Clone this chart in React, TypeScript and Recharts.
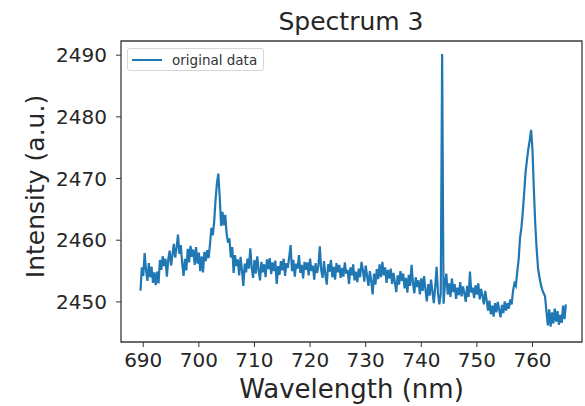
import React from "react";
import {
  LineChart, Line, XAxis, YAxis, Legend, ReferenceArea, Label,
} from "recharts";

// spectrometer grid: one sample every 0.25 nm starting at 689.5 nm
const WL_START = 689.5;
const WL_STEP = 0.25;

// intensity, one row per 5 nm
const INTENSITY = [
  // 689.5 - 694.25
  2451.8, 2455.6, 2454.2, 2457.9, 2455.1, 2453.4, 2456.3, 2454.0, 2455.7, 2453.1,
  2454.8, 2452.7, 2454.9, 2453.0, 2456.8, 2455.2, 2457.4, 2455.8, 2457.0, 2454.1,
  // 694.5 - 699.25
  2456.9, 2458.3, 2455.9, 2457.6, 2459.4, 2457.2, 2458.8, 2460.9, 2457.8, 2459.2,
  2456.3, 2454.2, 2457.0, 2455.1, 2458.6, 2456.4, 2459.1, 2457.3, 2458.5, 2456.0,
  // 699.5 - 704.25
  2458.9, 2456.2, 2458.0, 2455.0, 2457.4, 2454.8, 2458.1, 2456.6, 2458.4, 2457.1,
  2459.3, 2462.0, 2460.8, 2462.9, 2466.5, 2469.2, 2470.8, 2467.0, 2462.3, 2464.6,
  // 704.5 - 709.25
  2462.4, 2464.1, 2461.0, 2459.6, 2460.3, 2457.2, 2458.9, 2454.7, 2457.6, 2455.8,
  2456.9, 2454.3, 2457.3, 2455.1, 2452.6, 2456.2, 2454.8, 2457.0, 2455.4, 2458.7,
  // 709.5 - 714.25
  2455.6, 2453.9, 2456.8, 2454.6, 2457.4, 2455.2, 2453.5, 2456.5, 2454.8, 2456.1,
  2454.0, 2456.9, 2455.3, 2457.1, 2454.5, 2456.4, 2455.0, 2456.7, 2452.9, 2455.8,
  // 714.5 - 719.25
  2454.4, 2456.6, 2455.1, 2457.0, 2454.2, 2456.3, 2455.5, 2457.3, 2459.2, 2455.0,
  2456.8, 2454.1, 2456.2, 2455.4, 2457.6, 2454.7, 2456.0, 2453.8, 2456.5, 2455.2,
  // 719.5 - 724.25
  2456.4, 2454.3, 2457.0, 2455.0, 2455.9, 2453.6, 2456.3, 2454.7, 2455.8, 2459.0,
  2455.2, 2453.9, 2456.6, 2454.4, 2452.8, 2456.1, 2454.9, 2456.8, 2454.0, 2455.7,
  // 724.5 - 729.25
  2453.6, 2456.3, 2454.8, 2456.0, 2453.9, 2455.5, 2454.1, 2456.4, 2454.6, 2455.2,
  2452.9, 2455.6, 2454.3, 2456.1, 2453.5, 2454.9, 2453.2, 2455.4, 2454.0, 2456.5,
  // 729.5 - 734.25
  2455.1, 2453.3, 2455.9, 2454.2, 2452.6, 2455.0, 2453.4, 2451.2, 2454.6, 2452.8,
  2455.3, 2453.7, 2456.1, 2454.0, 2456.5, 2454.3, 2455.6, 2453.1, 2455.2, 2453.8,
  // 734.5 - 739.25
  2455.4, 2452.9, 2454.7, 2453.2, 2451.6, 2454.3, 2452.8, 2455.0, 2453.4, 2454.6,
  2452.2, 2453.9, 2451.5, 2454.4, 2452.6, 2456.0, 2453.1, 2451.4, 2454.0, 2452.4,
  // 739.5 - 744.25 (spike at 743.75)
  2453.5, 2451.2, 2453.8, 2451.8, 2454.2, 2452.0, 2450.1, 2452.9, 2451.0, 2453.6,
  2451.7, 2449.8, 2452.4, 2455.7, 2451.5, 2449.6, 2451.3, 2490.2, 2449.7, 2452.8,
  // 744.5 - 749.25
  2454.6, 2451.2, 2453.0, 2450.8, 2453.8, 2451.6, 2452.9, 2450.5, 2452.3, 2451.1,
  2453.2, 2450.9, 2452.5, 2451.4, 2450.0, 2452.6, 2450.8, 2454.9, 2451.5, 2452.3,
  // 749.5 - 754.25
  2450.6, 2452.7, 2451.2, 2453.0, 2450.4, 2452.1, 2451.0, 2449.6, 2451.8, 2450.3,
  2448.6, 2450.2, 2448.0, 2449.4, 2447.6, 2449.8, 2448.3, 2450.0, 2448.7, 2447.5,
  // 754.5 - 759.25
  2449.5, 2448.2, 2450.1, 2448.6, 2449.8, 2448.9, 2450.4, 2449.6, 2451.8, 2453.0,
  2452.6, 2454.8, 2456.8, 2460.3, 2462.0, 2464.5, 2467.7, 2471.0, 2473.0, 2474.8,
  // 759.5 - 764.25
  2476.2, 2477.9, 2474.5, 2468.0, 2462.5, 2458.5, 2455.4, 2454.0, 2452.8, 2452.0,
  2451.4, 2450.9, 2448.5, 2446.2, 2448.8, 2446.0, 2448.3, 2446.5, 2448.9, 2446.8,
  // 764.5 - 766.0
  2448.5, 2446.3, 2447.9, 2446.6, 2449.4, 2447.2, 2449.6,
];

const X_TICKS = [690, 700, 710, 720, 730, 740, 750, 760];
const Y_TICKS = [2450, 2460, 2470, 2480, 2490];
const X_DOMAIN: [number, number] = [686.0, 768.9];
const Y_DOMAIN: [number, number] = [2443.5, 2492.3];

const data = INTENSITY.map((v, i) => ({ wl: WL_START + i * WL_STEP, value: v }));

const FONT = "'DejaVu Sans', sans-serif";
const TEXT = "#262626";
const BLUE = "#1f77b4";

function LegendBox() {
  return (
    <div style={{
      display: "flex", alignItems: "center", width: 137, height: 23, boxSizing: "border-box",
      border: "1px solid #d6d6d6", borderRadius: 3, background: "rgba(255,255,255,0.8)",
      fontFamily: FONT, fontSize: 13.5, color: "#333",
    }}>
      <span style={{ display: "inline-block", width: 30, height: 2, background: BLUE, marginLeft: 4, marginRight: 10 }} />
      original data
    </div>
  );
}

export default function App() {
  return (
    <div style={{ position: "absolute", left: 0, top: 0, width: 585, height: 406, background: "white", fontFamily: FONT }}>
      <div style={{ position: "absolute", left: 0, width: 702, top: 7, textAlign: "center", fontSize: 25, color: TEXT, lineHeight: "30px" }}>
        Spectrum 3
      </div>
      <LineChart width={585} height={406} data={data} margin={{ top: 41, right: 3, bottom: 34, left: 61 }}>
        <XAxis
          type="number" dataKey="wl" domain={X_DOMAIN} ticks={X_TICKS} allowDataOverflow
          axisLine={false} tickLine={{ stroke: "#333" }} tickSize={5} tickMargin={6} height={30}
          tick={{ fontSize: 20, fill: TEXT, fontFamily: FONT }}
        >
          <Label
            content={({ viewBox }: any) => (
              <text x={viewBox.x + viewBox.width / 2} y={398} textAnchor="middle" fontSize={26} fill={TEXT} fontFamily={FONT}>
                Wavelength (nm)
              </text>
            )}
          />
        </XAxis>
        <YAxis
          type="number" domain={Y_DOMAIN} ticks={Y_TICKS} allowDataOverflow
          axisLine={false} tickLine={{ stroke: "#333" }} tickSize={5} tickMargin={9} width={60}
          tick={{ fontSize: 20, fill: TEXT, fontFamily: FONT }}
        >
          <Label
            content={({ viewBox }: any) => {
              const cy = viewBox.y + viewBox.height / 2 - 5;
              return (
                <text x={44} y={cy} transform={`rotate(-90 44 ${cy})`} textAnchor="middle" fontSize={25} fill={TEXT} fontFamily={FONT}>
                  Intensity (a.u.)
                </text>
              );
            }}
          />
        </YAxis>
        <ReferenceArea x1={X_DOMAIN[0]} x2={X_DOMAIN[1]} y1={Y_DOMAIN[0]} y2={Y_DOMAIN[1]} fill="none" stroke="#3a3a3a" strokeWidth={1.3} fillOpacity={0} />
        <Legend
          layout="horizontal" verticalAlign="middle" align="center"
          content={() => <LegendBox />}
          wrapperStyle={{ left: 127, top: 48, width: "auto", height: "auto" }}
        />
        <Line type="linear" dataKey="value" name="original data" stroke={BLUE} strokeWidth={2.2} dot={false} activeDot={false} isAnimationActive={false} />
      </LineChart>
    </div>
  );
}
